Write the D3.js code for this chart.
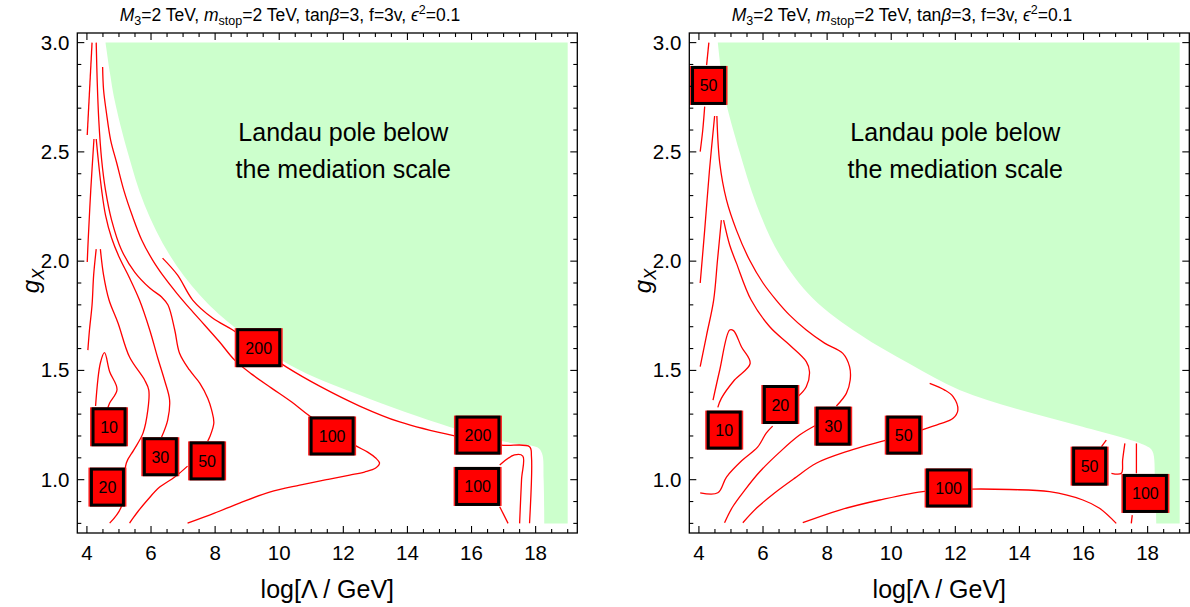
<!DOCTYPE html>
<html><head><meta charset="utf-8">
<script src="https://cdn.jsdelivr.net/npm/d3@7"></script>
<style>
body{margin:0;background:#fff}
svg{display:block}
text{font-family:"Liberation Sans",Arial,Helvetica,sans-serif;fill:#000}
</style>
</head><body>
<svg id="chart" width="1190" height="607"></svg>
<script>
// ---------------- data ----------------
const xDomain = [3.7, 19.3];
const yDomain = [0.756, 3.044];
const xMajorTicks = [4, 6, 8, 10, 12, 14, 16, 18];
const yMajorTicks = [1.0, 1.5, 2.0, 2.5, 3.0];
const xMinorTicks = d3.range(4, 19.01, 0.5);
const yMinorTicks = d3.range(0.8, 3.001, 0.1);
const xLabel = "log[Λ / GeV]";
const regionText = ["Landau pole below", "the mediation scale"];

// Landau-pole (excluded) regions: curved edge, then closed by the corners below
const landauLeftEdge = [[4.58,3.0],[4.72,2.86],[4.86,2.74],[5.27,2.5],[5.80,2.257],[6.58,2.028],[7.52,1.845],[8.52,1.708],[10.33,1.525],[12.51,1.387],[15.32,1.241],[17.09,1.172],[18.05,1.148],[18.2,1.12],[18.25,1.0],[18.27,0.8]];
const landauRightEdge = [[4.59,3.0],[4.70,2.86],[4.83,2.737],[5.27,2.499],[5.80,2.257],[6.52,2.028],[7.55,1.83],[9.01,1.665],[10.57,1.530],[12.13,1.410],[13.90,1.324],[15.97,1.242],[17.95,1.155],[18.15,1.13],[18.23,1.0],[18.27,0.8]];
const landauCorners = [[19.0,0.8],[19.0,3.0]];

// contour lines, left panel
const leftTopA = [[4.16,3.0],[4.01,2.577]];
const leftC10 = [[4.27,1.337],[4.42,1.534],[4.55,1.581],[4.71,1.494],[4.94,1.413],[4.71,1.351],[4.65,1.328]];
const leftC20a = [[4.29,2.055],[4.21,1.936],[4.16,1.799],[4.08,1.685],[4.03,1.593]];
const leftC20b = [[4.42,2.055],[4.52,1.936],[4.69,1.822],[4.97,1.717],[5.33,1.561],[5.80,1.456],[5.93,1.41],[5.90,1.318],[5.75,1.213],[5.46,1.135],[5.23,1.076],[5.07,0.875],[4.71,0.801]];
const leftC30a = [[4.22,2.559],[4.12,2.325],[4.04,2.097],[4.01,1.996]];
const leftC30b = [[4.29,2.559],[4.37,2.440],[4.46,2.325],[4.58,2.211],[4.77,2.106],[5.02,2.014],[5.33,1.923],[5.64,1.822],[5.96,1.685],[6.21,1.557],[6.42,1.456],[6.58,1.364],[6.52,1.273],[6.33,1.195]];
const leftC50a = [[4.29,3.0],[4.32,2.829],[4.37,2.646],[4.46,2.463],[4.58,2.325],[4.77,2.188],[5.08,2.051],[5.49,1.950],[5.96,1.877],[6.33,1.836],[6.53,1.799],[6.74,1.685],[6.89,1.579],[7.20,1.502],[7.52,1.442],[7.77,1.373],[7.89,1.319],[7.96,1.259],[7.83,1.195],[7.77,1.177]];
const leftC50b = [[7.14,1.062],[6.74,1.012],[6.27,0.966],[5.89,0.907],[5.58,0.852],[5.33,0.801]];
const leftC100 = [[4.49,2.888],[4.52,2.783],[4.61,2.678],[4.74,2.554],[4.93,2.449],[5.15,2.325],[5.43,2.202],[5.71,2.097],[6.05,2.005],[6.43,1.923],[6.80,1.854],[7.20,1.785],[7.67,1.708],[8.14,1.630],[8.61,1.547],[9.14,1.483],[9.76,1.419],[10.39,1.355],[10.95,1.291],[12.35,1.158],[12.76,1.126],[13.01,1.099],[13.13,1.076],[13.01,1.053],[12.66,1.035],[12.2,1.021],[11.57,1.003],[10.64,0.975],[9.7,0.943],[8.76,0.893],[7.98,0.847],[7.14,0.801]];
const leftC200 = [[6.36,2.014],[6.83,1.936],[7.30,1.822],[7.92,1.740],[8.55,1.685],[9.36,1.602],[10.23,1.515],[11.26,1.428],[12.51,1.337],[13.76,1.264],[15.47,1.2],[16.19,1.181],[16.93,1.158],[17.81,1.151],[17.87,1.105],[17.81,0.801]];
const leftC100r = [[16.88,1.067],[17.34,1.113],[17.60,1.108],[17.56,1.0],[17.50,0.8]];
const leftC100s = [[16.88,0.876],[17.14,0.8]];
const leftLabels = [["10",4.69,1.242],["20",4.64,0.966],["30",6.29,1.105],["50",7.75,1.086],["200",9.36,1.604],["100",11.65,1.20],["200",16.20,1.204],["100",16.19,0.969]];

// contour lines, right panel
const rightC50a = [[4.31,3.0],[4.24,2.897]];
const rightC50b = [[4.18,2.707],[4.12,2.6],[4.04,2.501]];
const rightC30a = [[4.49,2.664],[4.33,2.417],[4.18,2.142],[4.04,1.90]];
const rightC30b = [[4.56,2.664],[4.65,2.449],[4.86,2.28],[5.17,2.142],[5.58,2.005],[6.0,1.90],[6.41,1.822],[6.83,1.753],[7.35,1.685],[7.92,1.625],[8.49,1.578],[8.70,1.517],[8.72,1.456],[8.60,1.395],[8.29,1.337]];
const rightC30c = [[7.66,1.25],[7.14,1.204],[6.52,1.126],[5.89,1.035],[5.43,0.952],[5.05,0.875],[4.80,0.803]];
const rightC20a = [[4.70,2.188],[4.58,2.005],[4.46,1.822],[4.24,1.662],[4.04,1.517]];
const rightC20b = [[4.77,2.188],[4.96,2.074],[5.17,1.991],[5.63,1.822],[6.21,1.70],[6.83,1.616],[7.35,1.54],[7.45,1.494],[7.35,1.425],[7.09,1.38]];
const rightC20c = [[6.30,1.245],[6.10,1.213],[5.83,1.149],[5.36,1.09],[4.86,1.012],[4.59,0.94],[4.04,0.94]];
const rightC10 = [[4.44,1.364],[4.65,1.502],[4.96,1.685],[5.08,1.682],[5.33,1.607],[5.60,1.532],[5.11,1.456],[4.70,1.372],[4.59,1.331]];
const rightC50c = [[11.20,1.441],[11.67,1.41],[11.93,1.38],[12.08,1.319],[11.93,1.281],[11.51,1.255],[10.94,1.227]];
const rightC50d = [[9.85,1.181],[8.60,1.128],[7.66,1.075],[6.99,1.007],[6.36,0.939],[5.80,0.87],[5.37,0.803]];
const rightC100 = [[7.24,0.803],[8.39,0.861],[9.64,0.907],[11.10,0.948],[12.50,0.957],[13.69,0.955],[14.94,0.945],[15.98,0.907],[16.50,0.869],[17.02,0.8]];
const rightC50e = [[16.56,1.151],[16.71,1.181]];
const rightC50f = [[16.87,1.029],[17.18,1.029],[17.22,1.09],[17.29,1.166]];
const rightC100b = [[17.65,1.166],[17.65,1.029]];
const rightC100c = [[17.52,0.838],[17.49,0.8]];
const rightLabels = [["50",4.30,2.804],["10",4.79,1.227],["20",6.54,1.344],["30",8.19,1.245],["50",10.39,1.204],["100",11.79,0.962],["50",16.19,1.062],["100",17.93,0.937]];

// ---------------- drawing ----------------
(function () {
const svg = d3.select("#chart");
const W = 500, H = 500, topY = 33;

const panels = [
  {x0: 77.3, titleX: 290, edge: landauLeftEdge, labels: leftLabels,
   lines: [leftTopA, leftC10, leftC20a, leftC20b, leftC30a, leftC30b, leftC50a, leftC50b, leftC100, leftC200, leftC100r, leftC100s]},
  {x0: 689.3, titleX: 902, edge: landauRightEdge, labels: rightLabels,
   lines: [rightC50a, rightC50b, rightC30a, rightC30b, rightC30c, rightC20a, rightC20b, rightC20c, rightC10, rightC50c, rightC50d, rightC100, rightC50e, rightC50f, rightC100b, rightC100c]}
];

panels.forEach(p => {
  const x = d3.scaleLinear().domain(xDomain).range([p.x0, p.x0 + W]);
  const y = d3.scaleLinear().domain(yDomain).range([topY + H, topY]);
  const g = svg.append("g");

  // title
  const t = g.append("text").attr("x", p.titleX).attr("y", 21).attr("text-anchor", "middle").style("font-size", "17.5px");
  t.append("tspan").style("font-style", "italic").text("M");
  t.append("tspan").attr("dy", 4).style("font-size", "12.5px").text("3");
  t.append("tspan").attr("dy", -4).text("=2 TeV, ");
  t.append("tspan").style("font-style", "italic").text("m");
  t.append("tspan").attr("dy", 4).style("font-size", "12.5px").text("stop");
  t.append("tspan").attr("dy", -4).text("=2 TeV, tan");
  t.append("tspan").style("font-style", "italic").text("β");
  t.append("tspan").text("=3, f=3v, ");
  t.append("tspan").style("font-style", "italic").text("ϵ");
  t.append("tspan").attr("dy", -7).style("font-size", "12.5px").text("2");
  t.append("tspan").attr("dy", 7).text("=0.1");

  // landau region (smooth edge, closed by corners)
  const edgePath = d3.line().x(d => x(d[0])).y(d => y(d[1])).curve(d3.curveCatmullRom.alpha(0.5))(p.edge);
  const cornerPath = landauCorners.map(d => `L${x(d[0])},${y(d[1])}`).join("") + "Z";
  g.append("path").attr("d", edgePath + cornerPath).attr("fill", "#ccffcc").attr("stroke", "none");

  // region text
  regionText.forEach((s, i) => {
    g.append("text").attr("x", x(12.0)).attr("y", y(2.55) + i * 37)
      .attr("text-anchor", "middle").style("font-size", "25px").text(s);
  });

  // contours
  const line = d3.line().x(d => x(d[0])).y(d => y(d[1])).curve(d3.curveCatmullRom.alpha(0.5));
  p.lines.forEach(l => {
    g.append("path").datum(l).attr("d", line).attr("fill", "none")
      .attr("stroke", "#ff0000").attr("stroke-width", 1.3).attr("stroke-linejoin", "round");
  });

  // labels
  p.labels.forEach(([s, lx, ly]) => {
    const bw = s.length === 3 ? 42 : 32, bh = 36;
    const cx = x(lx), cy = y(ly);
    g.append("rect").attr("x", cx - bw / 2 - 3).attr("y", cy - bh / 2 - 1.5).attr("width", bw + 6).attr("height", bh + 3)
      .attr("fill", "#ff2020");
    g.append("rect").attr("x", cx - bw / 2).attr("y", cy - bh / 2).attr("width", bw).attr("height", bh)
      .attr("fill", "#ff0000").attr("stroke", "#000").attr("stroke-width", 3);
    g.append("text").attr("x", cx).attr("y", cy + 6).attr("text-anchor", "middle")
      .style("font-size", "16px").text(s);
  });

  // frame
  g.append("rect").attr("x", p.x0).attr("y", topY).attr("width", W).attr("height", H)
    .attr("fill", "none").attr("stroke", "#000").attr("stroke-width", 1.3);

  // ticks (inward on all sides)
  const tk = g.append("g").attr("stroke", "#000").attr("stroke-width", 1.1);
  const isMajorX = v => xMajorTicks.some(m => Math.abs(m - v) < 1e-6);
  const isMajorY = v => yMajorTicks.some(m => Math.abs(m - v) < 1e-6);
  xMinorTicks.forEach(v => {
    const L = isMajorX(v) ? 7 : 4;
    tk.append("line").attr("x1", x(v)).attr("x2", x(v)).attr("y1", topY + H).attr("y2", topY + H - L);
    tk.append("line").attr("x1", x(v)).attr("x2", x(v)).attr("y1", topY).attr("y2", topY + L);
  });
  yMinorTicks.forEach(v => {
    const L = isMajorY(v) ? 7 : 4;
    tk.append("line").attr("y1", y(v)).attr("y2", y(v)).attr("x1", p.x0).attr("x2", p.x0 + L);
    tk.append("line").attr("y1", y(v)).attr("y2", y(v)).attr("x1", p.x0 + W).attr("x2", p.x0 + W - L);
  });
  xMajorTicks.forEach(v => {
    g.append("text").attr("x", x(v)).attr("y", topY + H + 27).attr("text-anchor", "middle")
      .style("font-size", "20.5px").text(v);
  });
  yMajorTicks.forEach(v => {
    g.append("text").attr("x", p.x0 - 8).attr("y", y(v) + 7).attr("text-anchor", "end")
      .style("font-size", "20.5px").text(v.toFixed(1));
  });

  // axis labels
  g.append("text").attr("x", p.x0 + W / 2).attr("y", topY + H + 65).attr("text-anchor", "middle")
    .style("font-size", "25px").text(xLabel);
  const yl = g.append("text").attr("transform", `translate(${p.x0 - 38},${topY + H / 2 - 2}) rotate(-90)`)
    .attr("text-anchor", "middle").style("font-size", "24px");
  yl.append("tspan").style("font-style", "italic").text("g");
  yl.append("tspan").attr("dy", 5).style("font-size", "17px").style("font-style", "italic").text("X");
});
})();
</script>
</body></html>
